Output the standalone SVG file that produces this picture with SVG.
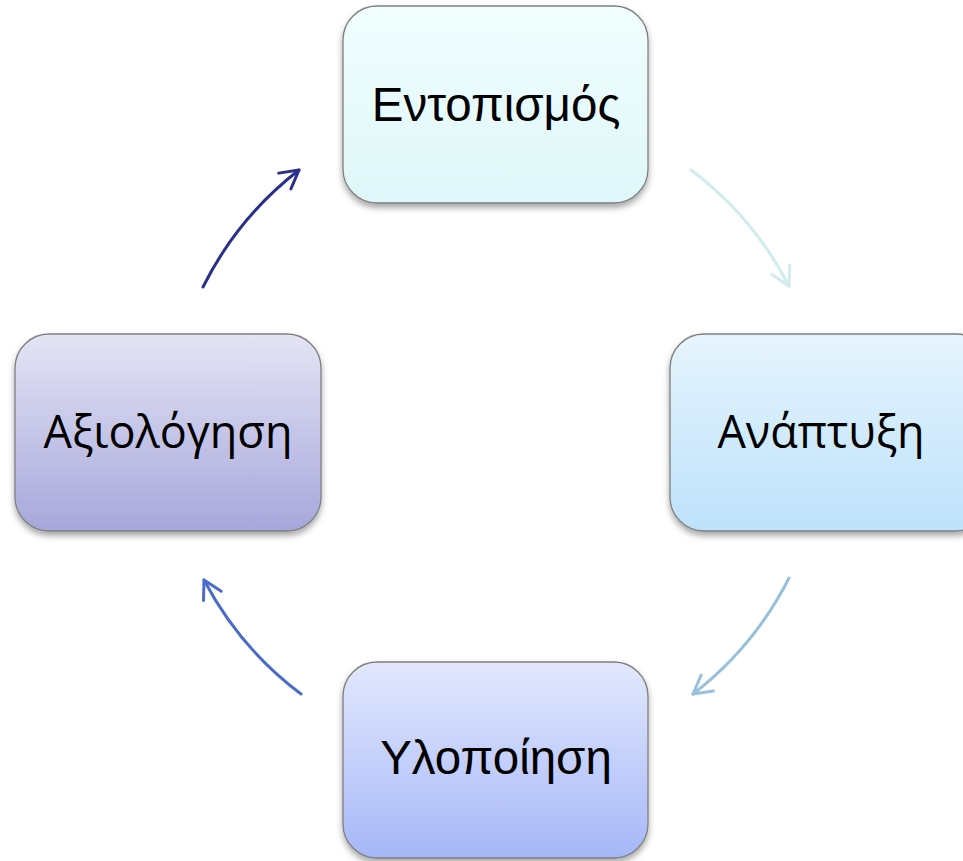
<svg xmlns="http://www.w3.org/2000/svg" width="963" height="861" viewBox="0 0 963 861">
<style>
.box{stroke:#7f7f7f;stroke-width:1.3;filter:url(#sh)}
.t1{font-family:"Liberation Sans",Arial,sans-serif;font-size:47.5px;fill:#000;text-anchor:middle}
.t2{font-family:"Open Sans","Noto Sans",sans-serif;font-size:45px;fill:#000;text-anchor:middle}
.arr{fill:none;stroke-width:3;stroke-linecap:round}
</style>
<defs>
<filter id="sh" x="-10%" y="-10%" width="120%" height="130%">
<feDropShadow dx="0" dy="4" stdDeviation="3" flood-color="#000" flood-opacity="0.35"/>
</filter>
<linearGradient id="g1" x1="0" y1="0" x2="0" y2="1"><stop offset="0" stop-color="#f1fefe"/><stop offset="1" stop-color="#dff7f9"/></linearGradient>
<linearGradient id="g2" x1="0" y1="0" x2="0" y2="1"><stop offset="0" stop-color="#e6f4fd"/><stop offset="1" stop-color="#bde2fb"/></linearGradient>
<linearGradient id="g3" x1="0" y1="0" x2="0" y2="1"><stop offset="0" stop-color="#e2e8fd"/><stop offset="1" stop-color="#a6b7f8"/></linearGradient>
<linearGradient id="g4" x1="0" y1="0" x2="0" y2="1"><stop offset="0" stop-color="#e4e4f5"/><stop offset="1" stop-color="#a7a7dc"/></linearGradient>
<marker id="m1" markerUnits="userSpaceOnUse" markerWidth="30" markerHeight="30" refX="0" refY="0" viewBox="-22 -15 30 30" orient="auto"><path d="M-18,-10 L0,0 L-18,10" fill="none" stroke="#d0ecee" stroke-width="3" stroke-linecap="round" stroke-linejoin="round"/></marker>
<marker id="m2" markerUnits="userSpaceOnUse" markerWidth="30" markerHeight="30" refX="0" refY="0" viewBox="-22 -15 30 30" orient="auto"><path d="M-18,-10 L0,0 L-18,10" fill="none" stroke="#97c0dc" stroke-width="3" stroke-linecap="round" stroke-linejoin="round"/></marker>
<marker id="m3" markerUnits="userSpaceOnUse" markerWidth="30" markerHeight="30" refX="0" refY="0" viewBox="-22 -15 30 30" orient="auto"><path d="M-18,-10 L0,0 L-18,10" fill="none" stroke="#4a6cc8" stroke-width="3" stroke-linecap="round" stroke-linejoin="round"/></marker>
<marker id="m4" markerUnits="userSpaceOnUse" markerWidth="30" markerHeight="30" refX="0" refY="0" viewBox="-22 -15 30 30" orient="auto"><path d="M-18,-10 L0,0 L-18,10" fill="none" stroke="#2b2f8c" stroke-width="3" stroke-linecap="round" stroke-linejoin="round"/></marker>
</defs>
<rect width="963" height="861" fill="#fff"/>
<g id="connectors">
<path class="arr" stroke="#d0ecee" marker-end="url(#m1)" d="M691,170 A340,340 0 0,1 789,286"/>
<path class="arr" stroke="#97c0dc" marker-end="url(#m2)" d="M789,578 A340,340 0 0,1 693,694"/>
<path class="arr" stroke="#4a6cc8" marker-end="url(#m3)" d="M301,694 A340,340 0 0,1 204,580"/>
<path class="arr" stroke="#2b2f8c" marker-end="url(#m4)" d="M203,287 A340,340 0 0,1 299,170"/>
</g>
<g id="n1">
<rect class="box" x="343" y="6" width="305" height="197" rx="34" fill="url(#g1)"/>
<text class="t1" x="496" y="121">Εντοπισμός</text>
</g>
<g id="n2">
<rect class="box" x="670" y="334" width="320" height="197" rx="34" fill="url(#g2)"/>
<text class="t2" x="821" y="448">Ανάπτυξη</text>
</g>
<g id="n3">
<rect class="box" x="343" y="662" width="305" height="196" rx="34" fill="url(#g3)"/>
<text class="t1" x="496" y="774">Υλοποίηση</text>
</g>
<g id="n4">
<rect class="box" x="15" y="334" width="306" height="197" rx="34" fill="url(#g4)"/>
<text class="t2" x="168" y="448">Αξιολόγηση</text>
</g>
</svg>
